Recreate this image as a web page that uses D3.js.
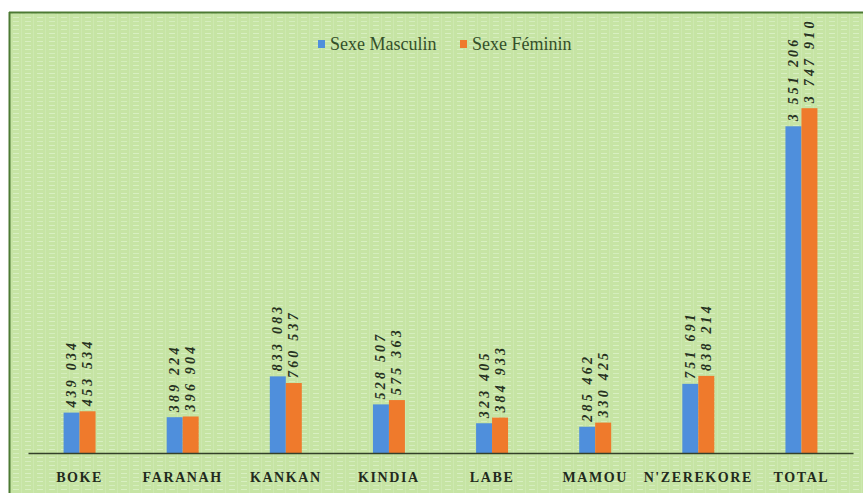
<!DOCTYPE html>
<html>
<head>
<meta charset="utf-8">
<script src="https://cdn.jsdelivr.net/npm/d3@7"></script>
<style>
  html, body { margin: 0; padding: 0; background: #ffffff; }
  svg { display: block; }
</style>
</head>
<body>
<script>
const WIDTH_SVG = 863;
const HEIGHT_SVG = 493;

// data
const regions = ["BOKE", "FARANAH", "KANKAN", "KINDIA", "LABE", "MAMOU", "N'ZEREKORE", "TOTAL"];
const series = ["Sexe Masculin", "Sexe Féminin"];
const masculin = [439034, 389224, 833083, 528507, 323405, 285462, 751691, 3551206];
const feminin = [453534, 396904, 760537, 575363, 384933, 330425, 838214, 3747910];
const colors = ["#4f8fdc", "#ef7a2c"];

const AXIS_Y = 453;
const LEFT = 28;
const RIGHT = 853;

const fmt = d3.formatLocale({ decimal: ",", thousands: "\u00a0", grouping: [3], currency: ["", ""] }).format(",d");

const svg = d3.select("body")
    .append("svg")
        .attr("width", WIDTH_SVG)
        .attr("height", HEIGHT_SVG);

// textured green background
const defs = svg.append("defs");
const pat = defs.append("pattern")
    .attr("id", "weave")
    .attr("width", 12)
    .attr("height", 8)
    .attr("patternUnits", "userSpaceOnUse");
pat.append("rect").attr("width", 12).attr("height", 8).attr("fill", "#c6e4a4");
pat.append("rect").attr("x", 1).attr("y", 1).attr("width", 6).attr("height", 1).attr("fill", "#d8efc2");
pat.append("rect").attr("x", 1).attr("y", 5).attr("width", 6).attr("height", 1).attr("fill", "#d4edbd");
pat.append("rect").attr("x", 9).attr("y", 0).attr("width", 1).attr("height", 8).attr("fill", "#cde8b0");

svg.append("rect")
    .attr("x", 9)
    .attr("y", 12)
    .attr("width", WIDTH_SVG)
    .attr("height", HEIGHT_SVG)
    .attr("fill", "url(#weave)");

// frame (top and left only, the rest runs off the picture)
svg.append("line")
    .attr("x1", 9).attr("y1", 12.5).attr("x2", WIDTH_SVG).attr("y2", 12.5)
    .attr("stroke", "#4d7a33").attr("stroke-width", 2);
svg.append("line")
    .attr("x1", 9.5).attr("y1", 12).attr("x2", 9.5).attr("y2", HEIGHT_SVG)
    .attr("stroke", "#4d7a33").attr("stroke-width", 2);

// scales
const x = d3.scaleBand()
    .domain(regions)
    .range([LEFT, RIGHT])
    .paddingInner(0.69)
    .paddingOuter(0.345);

const xs = d3.scaleBand()
    .domain(series)
    .range([0, x.bandwidth()]);

const y = d3.scaleLinear()
    .domain([0, 4000000])
    .range([AXIS_Y, 85]);

const rows = regions.map((r, i) => ({ region: r, values: [masculin[i], feminin[i]] }));

// bars
const groups = svg.selectAll("g.region")
    .data(rows)
    .join("g")
        .attr("class", "region")
        .attr("transform", d => `translate(${x(d.region)},0)`);

groups.selectAll("rect")
    .data(d => d.values.map((v, k) => ({ key: series[k], v: v, k: k })))
    .join("rect")
        .attr("x", d => xs(d.key))
        .attr("y", d => y(d.v))
        .attr("width", xs.bandwidth())
        .attr("height", d => AXIS_Y - y(d.v))
        .attr("fill", d => colors[d.k]);

// value labels, rotated
groups.selectAll("text")
    .data(d => d.values.map((v, k) => ({ key: series[k], v: v, k: k })))
    .join("text")
        .attr("transform", d => `translate(${xs(d.key) + xs.bandwidth() / 2 + 4.5},${y(d.v) - 5}) rotate(-90)`)
        .attr("text-anchor", "start")
        .style("font-family", "'Liberation Serif', 'DejaVu Serif', serif")
        .style("font-weight", "bold")
        .style("font-style", "italic")
        .style("font-size", "14px")
        .style("letter-spacing", "3.2px")
        .attr("fill", "#26311f")
        .text(d => fmt(d.v));

// x axis
const xAxis = svg.append("g")
    .attr("transform", `translate(0,${AXIS_Y})`)
    .call(d3.axisBottom(x).tickSize(0).tickPadding(19));
xAxis.select(".domain")
    .attr("stroke", "#34402a")
    .attr("stroke-width", 1.5);
xAxis.selectAll("text")
    .style("font-family", "'Liberation Serif', 'DejaVu Serif', serif")
    .style("font-weight", "bold")
    .style("font-size", "14px")
    .style("letter-spacing", "1.6px")
    .attr("fill", "#222a1c");

// legend
const legend = svg.append("g")
    .attr("transform", "translate(330,50)");
const legendX = [0, 142];
series.forEach((s, k) => {
    const g = legend.append("g").attr("transform", `translate(${legendX[k]},0)`);
    g.append("rect")
        .attr("x", -12).attr("y", -10)
        .attr("width", 7).attr("height", 8)
        .attr("fill", colors[k]);
    g.append("text")
        .attr("x", 0)
        .attr("y", 0)
        .style("font-family", "'Liberation Serif', 'DejaVu Serif', serif")
        .style("font-size", "18px")
        .attr("fill", "#34502a")
        .text(s);
});
</script>
</body>
</html>
